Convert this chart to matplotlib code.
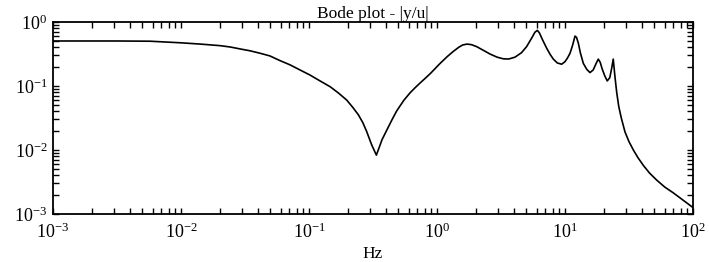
import matplotlib
matplotlib.use("Agg")
import matplotlib.pyplot as plt
from matplotlib.ticker import LogLocator, NullFormatter

# Frequency (Hz) and magnitude |y/u|
freq_hz = [0.001, 0.00316, 0.00573, 0.01, 0.0141, 0.0202, 0.0242, 0.0305, 0.0346, 0.0417,
           0.0495, 0.0589, 0.0711, 0.0851, 0.102, 0.122, 0.146, 0.170, 0.197, 0.219,
           0.243, 0.263, 0.282, 0.309, 0.336, 0.355, 0.372, 0.405, 0.447, 0.484,
           0.550, 0.617, 0.676, 0.736, 0.813, 0.891, 1.054, 1.202, 1.340, 1.479, 1.585, 1.718,
           1.862, 2.042, 2.291, 2.594, 2.951, 3.296, 3.631, 4.064, 4.571, 5.012,
           5.495, 5.821, 6.081, 6.310, 6.683, 7.194, 7.674, 8.110, 8.710, 9.419,
           10.0, 10.47, 10.94, 11.48, 11.97, 12.30, 12.71, 13.18, 13.90, 14.79,
           15.67, 16.60, 17.58, 18.20, 18.84, 19.50, 20.42, 21.38, 22.39, 23.17,
           23.82, 24.55, 25.35, 26.30, 27.54, 29.44, 31.62, 34.20, 37.15, 40.93,
           45.71, 52.00, 60.26, 70.15, 83.18, 100.0]
magnitude = [0.505, 0.505, 0.501, 0.473, 0.452, 0.427, 0.407, 0.372, 0.355, 0.324,
             0.295, 0.251, 0.214, 0.178, 0.148, 0.120, 0.0977, 0.0776, 0.0603, 0.0468,
             0.0355, 0.0269, 0.0195, 0.0120, 0.00832, 0.0112, 0.0145, 0.0204, 0.0302, 0.0407,
             0.0596, 0.0785, 0.0944, 0.111, 0.133, 0.158, 0.224, 0.288, 0.347, 0.403, 0.437, 0.452,
             0.442, 0.412, 0.363, 0.316, 0.282, 0.266, 0.264, 0.282, 0.331, 0.412,
             0.562, 0.692, 0.741, 0.676, 0.525, 0.389, 0.309, 0.263, 0.229, 0.219,
             0.240, 0.275, 0.324, 0.437, 0.603, 0.575, 0.468, 0.331, 0.226, 0.182,
             0.162, 0.178, 0.229, 0.263, 0.234, 0.186, 0.145, 0.120, 0.135, 0.191,
             0.263, 0.141, 0.0794, 0.0479, 0.0316, 0.0191, 0.0135, 0.0100, 0.00759, 0.00575,
             0.00437, 0.00339, 0.00263, 0.00214, 0.00166, 0.00126]

x_ticks = [1e-3, 1e-2, 1e-1, 1e0, 1e1, 1e2]
x_tick_labels = [r"$10^{-3}$", r"$10^{-2}$", r"$10^{-1}$", r"$10^{0}$", r"$10^{1}$", r"$10^{2}$"]
y_ticks = [1e-3, 1e-2, 1e-1, 1e0]
y_tick_labels = [r"$10^{-3}$", r"$10^{-2}$", r"$10^{-1}$", r"$10^{0}$"]
title_text = "Bode plot - |y/u|"
x_label = "Hz"

plt.rcParams["font.family"] = ["Liberation Serif", "DejaVu Serif"]
plt.rcParams["mathtext.fontset"] = "custom"
plt.rcParams["mathtext.rm"] = "Liberation Serif"
plt.rcParams["mathtext.it"] = "Liberation Serif"
plt.rcParams["mathtext.default"] = "rm"

fig = plt.figure(figsize=(7.09, 2.62), dpi=100)
ax = fig.add_axes([53 / 709, 48 / 262, 640 / 709, 192 / 262])

ax.plot(freq_hz, magnitude, color="black", linewidth=1.2)
ax.set_xscale("log")
ax.set_yscale("log")
ax.set_xlim(1e-3, 1e2)
ax.set_ylim(1e-3, 1e0)

ax.set_xticks(x_ticks)
ax.set_xticklabels(x_tick_labels)
ax.set_yticks(y_ticks)
ax.set_yticklabels(y_tick_labels)
ax.xaxis.set_minor_locator(LogLocator(base=10, subs=range(2, 10), numticks=20))
ax.yaxis.set_minor_locator(LogLocator(base=10, subs=range(2, 10), numticks=20))
ax.xaxis.set_minor_formatter(NullFormatter())
ax.yaxis.set_minor_formatter(NullFormatter())

ax.tick_params(which="both", direction="in", top=True, right=True, width=1.0,
               length=4, labelsize=13)
ax.tick_params(axis="x", which="major", pad=6)
ax.tick_params(axis="y", which="major", pad=4)

for sp in ax.spines.values():
    sp.set_linewidth(1.3)

ax.set_title(title_text, fontsize=12.5, pad=1)
ax.set_xlabel(x_label, fontsize=12.5, labelpad=3)

fig.savefig("out.png", dpi=100)
